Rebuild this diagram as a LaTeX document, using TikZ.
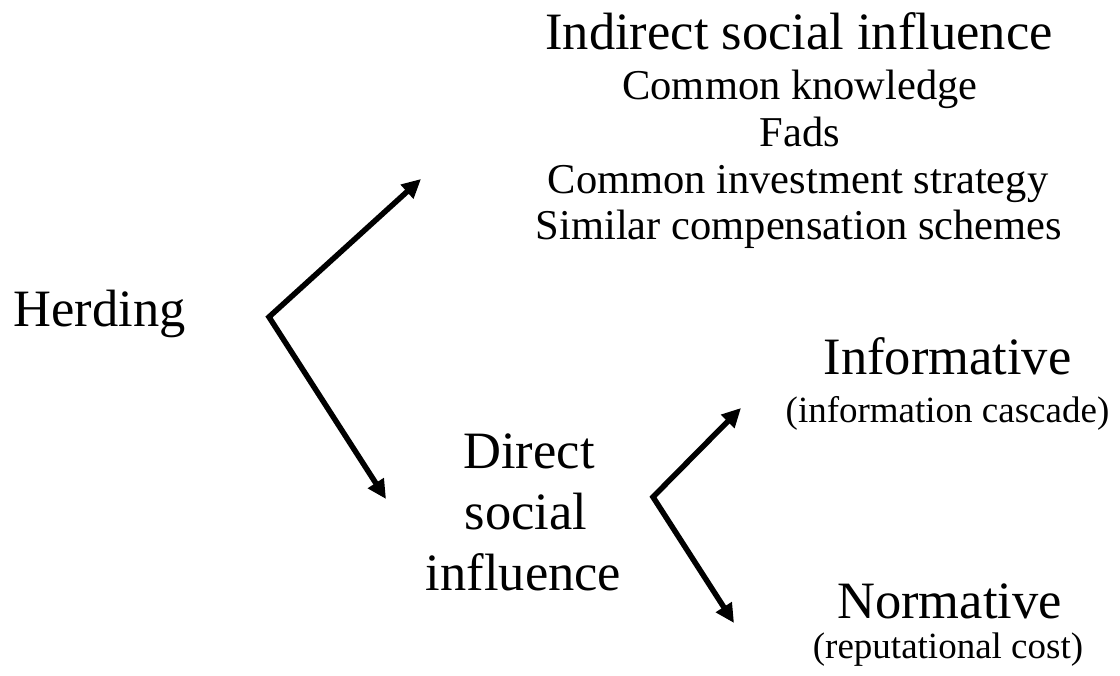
\documentclass[tikz,border=0pt]{standalone}
\usepackage{fontspec}
\setmainfont{Liberation Serif}
\usetikzlibrary{arrows.meta}
\begin{document}
\begin{tikzpicture}[x=1pt,y=-1pt,
  big/.style={anchor=base,inner sep=0pt,font=\fontsize{52.5}{62}\selectfont},
  mid/.style={anchor=base,inner sep=0pt,font=\fontsize{42.5}{48}\selectfont},
  small/.style={anchor=base,inner sep=0pt,font=\fontsize{37}{44}\selectfont},
  branch/.style={line width=5.5pt,line join=miter,{Triangle[length=19pt,width=18pt]}-{Triangle[length=19pt,width=18pt]}}]
\useasboundingbox[fill=white] (0,0) rectangle (1120,676);
% texts
\node[big] (herding) at (99.5,327) {Herding};
\node[big] (indirect) at (799,50) {Indirect social influence};
\node[mid] (ck) at (800,100) {Common knowledge};
\node[mid] (fads) at (800,147) {Fads};
\node[mid] (cis) at (798,194) {Common investment strategy};
\node[mid] (scs) at (799,240) {Similar compensation schemes};
\node[big] (direct1) at (529,468) {Direct};
\node[big] (direct2) at (526,529) {social};
\node[big] (direct3) at (523.5,590) {influence};
\node[big] (informative) at (947.5,375) {Informative};
\node[small] (infocasc) at (947.5,423) {(information cascade)};
\node[big] (normative) at (949.5,618) {Normative};
\node[small] (repcost) at (948,658) {(reputational cost)};
% connector points
\coordinate (c1) at (269,317);
\coordinate (t1) at (421,179);
\coordinate (t2) at (386,499);
\coordinate (c2) at (653,497);
\coordinate (t3) at (741,408);
\coordinate (t4) at (734,623);
\draw[branch] (t1) -- (c1) -- (t2);
\draw[branch] (t3) -- (c2) -- (t4);
\end{tikzpicture}
\end{document}
